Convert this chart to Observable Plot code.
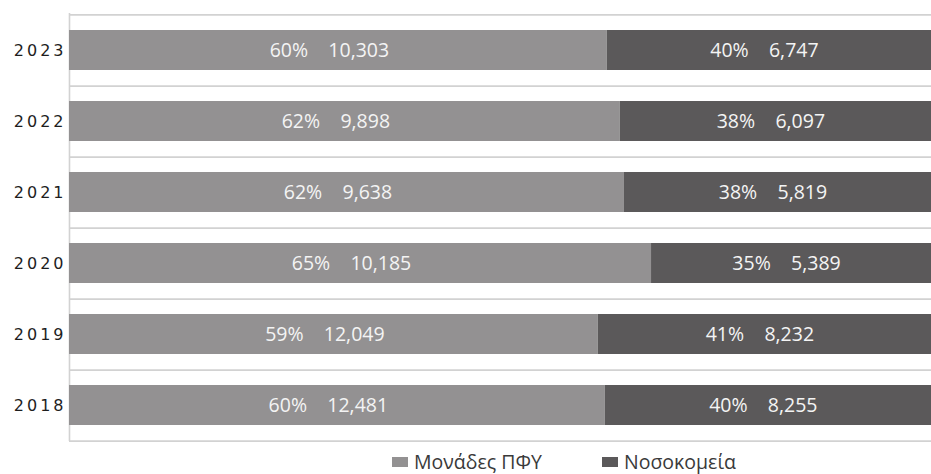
<!DOCTYPE html>
<html>
<head>
<meta charset="utf-8">
<script src="https://cdn.jsdelivr.net/npm/d3@7"></script>
<script src="https://cdn.jsdelivr.net/npm/@observablehq/plot@0.6"></script>
<style>
  body { margin: 0; background: #fff; overflow: hidden; }
  #chart { position: relative; width: 931px; height: 474px; overflow: hidden; }
  #chart svg { display: block; }
  g[aria-label="y-axis tick label"] text { letter-spacing: 3px; }
  .legend { position: absolute; top: 452px; left: 0; width: 931px; height: 22px;
            font-family: "Open Sans", sans-serif; font-size: 19.5px; line-height: 20px; color: #3a3a3a; }
  .legend .item { position: absolute; top: 0; display: flex; align-items: center; white-space: nowrap; }
  .legend .swatch { display: inline-block; width: 16px; height: 10px; margin-right: 6px; }
</style>
</head>
<body>
<div id="chart"></div>
<script>
// Annual counts by setting: primary health care units vs hospitals
const years = ["2023", "2022", "2021", "2020", "2019", "2018"];
const pfyValues = [10303, 9898, 9638, 10185, 12049, 12481];
const hospitalValues = [6747, 6097, 5819, 5389, 8232, 8255];
const groups = ["Μονάδες ΠΦΥ", "Νοσοκομεία"];
const colors = ["#939192", "#5b595a"];

const rows = years.flatMap((year, i) => {
  const total = pfyValues[i] + hospitalValues[i];
  return [
    {year, group: groups[0], value: pfyValues[i], share: pfyValues[i] / total},
    {year, group: groups[1], value: hospitalValues[i], share: hospitalValues[i] / total}
  ];
});

const fmt = d3.format(",");
const label = d => `${Math.round(d.share * 100)}%    ${fmt(d.value)}`;

const width = 931, height = 448;
const marginTop = 13, marginBottom = 7, marginLeft = 69, marginRight = -28;
const step = (height - marginTop - marginBottom) / years.length;
const gridStyle = {stroke: "#d2d2d2", strokeWidth: 1.6};

const stackOpts = {x: "value", y: "year", z: "group", offset: "normalize", order: groups};
const labelStyle = {fill: "#f4f4f4", fontSize: 19.5};

const chart = Plot.plot({
  width, height, marginTop, marginBottom, marginLeft, marginRight,
  style: {fontFamily: "'Open Sans', sans-serif", background: "white"},
  x: {domain: [0, 1], axis: null},
  y: {domain: years, paddingInner: 0.44, paddingOuter: 0.22, label: null, axis: null},
  color: {domain: groups, range: colors},
  marks: [
    // category separators
    Plot.ruleY(years, {y: d => d, dy: step / 2, ...gridStyle}),
    Plot.ruleY(years.slice(0, 1), {y: d => d, dy: -step / 2, ...gridStyle}),
    Plot.ruleX([0], gridStyle),
    Plot.barX(rows, Plot.stackX({...stackOpts, fill: "group"})),
    Plot.text(rows, Plot.stackX({
      ...stackOpts,
      text: d => d.group === groups[0] ? label(d) : null,
      ...labelStyle, dx: -9
    })),
    Plot.text(rows, Plot.stackX({
      ...stackOpts,
      text: d => d.group === groups[1] ? label(d) : null,
      ...labelStyle, dx: -19
    })),
    Plot.axisY({
      tickSize: 0, tickPadding: 3, fontSize: 16, fill: "#1e1e1e",
      fontFamily: "'DejaVu Sans', sans-serif"
    })
  ]
});

const root = document.getElementById("chart");
root.appendChild(chart);

// legend below the plot
const legend = document.createElement("div");
legend.className = "legend";
const lefts = [392, 602];
groups.forEach((g, i) => {
  const item = document.createElement("div");
  item.className = "item";
  item.style.left = lefts[i] + "px";
  const sw = document.createElement("span");
  sw.className = "swatch";
  sw.style.background = colors[i];
  item.appendChild(sw);
  item.appendChild(document.createTextNode(g));
  legend.appendChild(item);
});
root.appendChild(legend);
</script>
</body>
</html>
